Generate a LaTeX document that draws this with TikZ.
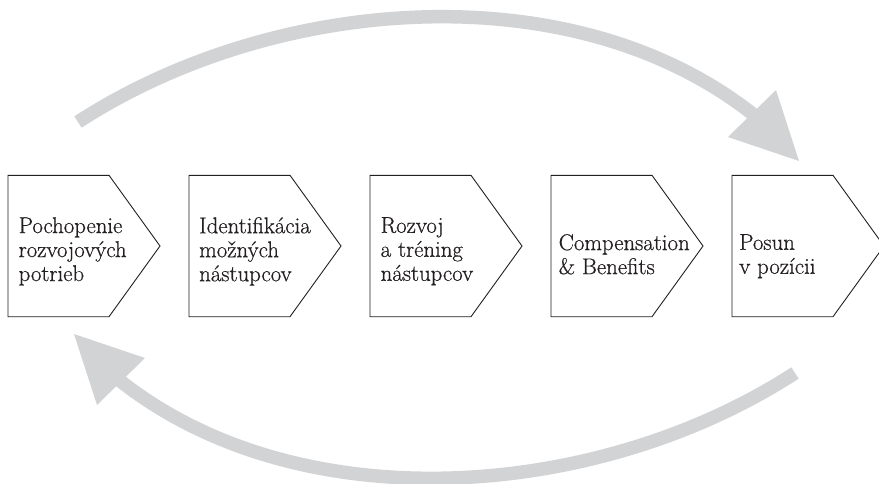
\documentclass[tikz,border=0pt]{standalone}
\usepackage{fontspec}
\setmainfont[FakeBold=0.6]{Latin Modern Roman}
\definecolor{arrowgray}{RGB}{209,211,212}
\definecolor{boxline}{RGB}{35,31,32}
\tikzset{
  stepbox/.style={draw=boxline, line width=0.9pt, line join=miter},
  steptext/.style={anchor=north west, inner sep=0pt, align=left,
    font=\fontsize{22.8}{24}\selectfont, text=boxline},
  bigshaft/.style={draw=arrowgray, line width=13.5pt},
  bighead/.style={fill=arrowgray, draw=none},
}
\begin{document}
\begin{tikzpicture}[x=1pt,y=-1pt]
\useasboundingbox (0,0) rectangle (879,483);
\clip (0,0) rectangle (879,483);
% cycle arrows (the lower one is the upper one turned round the centre)
\coordinate (ctr) at (436.5,247.5);
\foreach \ang in {0,180}{
  \begin{scope}[rotate around={\ang:(ctr)}]
    \coordinate (tail) at (78,122);
    \coordinate (base) at (752,113.5);
    \coordinate (inner) at (758.3,118.4);
    \coordinate (hA) at (776,90);
    \coordinate (hB) at (799,161);
    \coordinate (hC) at (728,137);
    \draw[bigshaft] (tail) .. controls (272,-4) and (570,-29) .. (base) -- (inner);
    \fill[bighead] (hA) -- (hB) -- (hC) -- cycle;
  \end{scope}
}
% step boxes
\foreach \i/\x in {1/8,2/189,3/370,4/551,5/732}{
  \draw[stepbox] (\x,175.3) coordinate (box\i) -- ++(101,0) -- ++(51,70.7)
     -- ++(-51,70.7) -- ++(-101,0) -- cycle;
}
\node[steptext] (t1) at (18.5,217) {Pochopenie\\rozvojových\\potrieb};
\node[steptext] (t2) at (199,217) {Identifikácia\\možných\\nástupcov};
\node[steptext] (t3) at (380.5,217) {Rozvoj\\a tréning\\nástupcov};
\node[steptext] (t4) at (558.5,234) {Compensation\\\& Benefits};
\node[steptext] (t5) at (739,234) {Posun\\v pozícii};
\end{tikzpicture}
\end{document}
